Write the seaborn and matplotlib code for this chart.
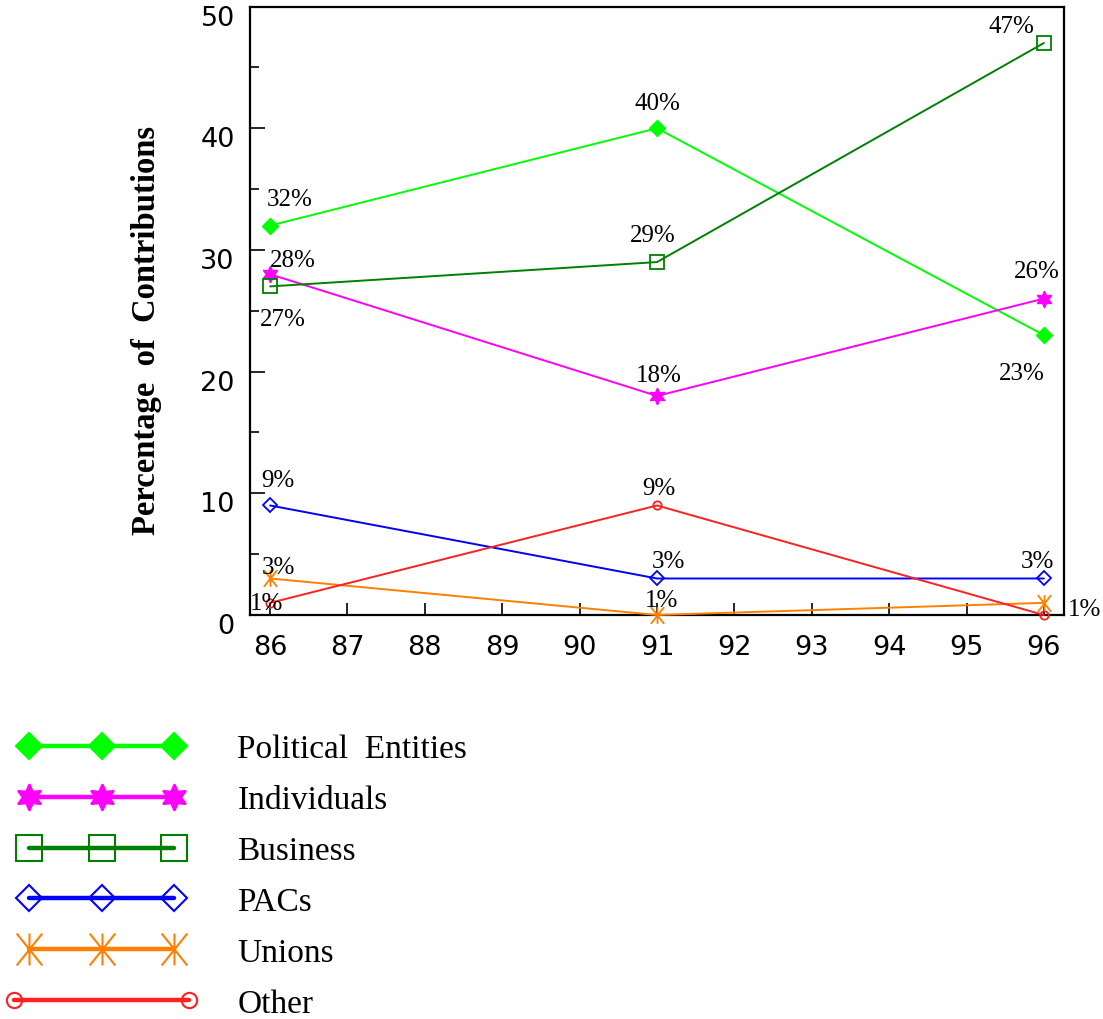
import numpy as np
import pandas as pd
import matplotlib
matplotlib.use("Agg")
import matplotlib.pyplot as plt
from matplotlib.path import Path
from matplotlib.lines import Line2D
from matplotlib.legend_handler import HandlerLine2D
from matplotlib.transforms import ScaledTranslation
import seaborn as sns

# ---- data ----
years = [86, 91, 96]
political = [32, 40, 23]
individuals = [28, 18, 26]
business = [27, 29, 47]
pacs = [9, 3, 3]
unions = [3, 0, 1]
other = [1, 9, 0]

political_labels = ["32%", "40%", "23%"]
individuals_labels = ["28%", "18%", "26%"]
business_labels = ["27%", "29%", "47%"]
pacs_labels = ["9%", "3%", "3%"]
unions_labels = ["3%", "1%", "1%"]
other_labels = ["1%", "9%", ""]

series_names = ["Political  Entities", "Individuals", "Business", "PACs", "Unions", "Other"]
xtick_values = list(range(86, 97))
ytick_values = [0, 10, 20, 30, 40, 50]
ylabel_text = "Percentage  of  Contributions"

# ---- styles / layout ----
sns.set_style("white")
plt.rcParams["font.family"] = ["DejaVu Sans"]
plt.rcParams["text.color"] = "black"
plt.rcParams["axes.labelcolor"] = "black"

asterisk = Path(
    [(0, -1), (0, 1), (-0.8, -1), (0.8, 1), (-0.8, 1), (0.8, -1)],
    [Path.MOVETO, Path.LINETO, Path.MOVETO, Path.LINETO, Path.MOVETO, Path.LINETO],
)

styles = [
    dict(color="#00ff00", marker="D", ms=8, mfc="#00ff00", mec="#00ff00", mew=1.0),
    dict(color="#ff00ff", marker=(6, 1, 0), ms=12, mfc="#ff00ff", mec="#ff00ff", mew=1.0),
    dict(color="#008000", marker="s", ms=10, mfc="none", mec="#008000", mew=1.3),
    dict(color="#0000ff", marker="D", ms=7.5, mfc="none", mec="#0000ff", mew=1.3),
    dict(color="#ff8000", marker=asterisk, ms=12, mfc="none", mec="#ff8000", mew=1.3),
    dict(color="#ff2020", marker="o", ms=6, mfc="none", mec="#ff2020", mew=1.3),
]
legend_styles = [
    dict(marker="D", ms=13.5),
    dict(marker=(6, 1, 0), ms=19),
    dict(marker="s", ms=19),
    dict(marker="D", ms=13),
    dict(marker=asterisk, ms=23),
    dict(marker="o", ms=11),
]
# annotation offsets in pixels (dx, dy up)
offsets = [
    [(20, 27), (0, 25), (-22, -38)],
    [(23, 14), (2, 21), (-7, 28)],
    [(13, -33), (-4, 27), (-32, 17)],
    [(8, 25), (11, 17), (-6, 17)],
    [(8, 11), (5, 15), (41, -6)],
    [(-4, 0), (2, 17), (0, 0)],
]

values = [political, individuals, business, pacs, unions, other]
labels = [political_labels, individuals_labels, business_labels, pacs_labels,
          unions_labels, other_labels]

fig = plt.figure(figsize=(11.03, 10.20), dpi=100)
ax = fig.add_axes([250 / 1103, 1 - 616 / 1020, 814 / 1103, 608.5 / 1020])

for name, vals, st in zip(series_names, values, styles):
    df = pd.DataFrame({"year": years, "pct": vals})
    sns.lineplot(data=df, x="year", y="pct", ax=ax, legend=False,
                 color=st["color"], marker=st["marker"], markersize=st["ms"],
                 markerfacecolor=st["mfc"], markeredgecolor=st["mec"],
                 markeredgewidth=st["mew"], linewidth=1.4, clip_on=False, zorder=3)

for vals, labs, offs in zip(values, labels, offsets):
    for x, y, lab, off in zip(years, vals, labs, offs):
        if lab:
            ax.annotate(lab, (x, y), xytext=off, textcoords="offset pixels",
                        ha="center", va="center", fontsize=18,
                        family=["Liberation Serif", "DejaVu Serif"], color="black",
                        annotation_clip=False, zorder=5)

ax.set_xlim(85.74, 96.26)
ax.set_ylim(0, 50)
ax.set_xticks(xtick_values)
ax.set_xticklabels([str(v) for v in xtick_values])
ax.set_yticks(ytick_values)
ax.set_yticklabels([str(v) for v in ytick_values])
ax.set_yticks(np.arange(5, 50, 10), minor=True)
ax.tick_params(axis="x", direction="in", length=8.6, width=1.2, labelsize=19.5, pad=14,
               colors="black", bottom=True, top=False)
ax.tick_params(axis="y", which="major", direction="in", length=10.8, width=1.2,
               labelsize=19.5, pad=11, colors="black", left=True, right=False)
ax.tick_params(axis="y", which="minor", direction="in", length=6.5, width=1.2,
               colors="black", left=True, right=False)
shift = ScaledTranslation(0, -8 / 100, fig.dpi_scale_trans)
for lab in ax.get_yticklabels():
    lab.set_transform(lab.get_transform() + shift)
for sp in ax.spines.values():
    sp.set_linewidth(1.6)
    sp.set_color("black")
ax.set_xlabel("")
ax.set_ylabel(ylabel_text, fontsize=23.5, fontweight="bold", color="black",
              family=["Liberation Serif", "DejaVu Serif"])
ax.yaxis.set_label_coords(-0.108, 0.47)
ax.grid(False)

handles = []
for name, st, lst in zip(series_names, styles, legend_styles):
    h = Line2D([], [], color=st["color"], linewidth=3.2, marker=lst["marker"],
               markersize=lst["ms"], markerfacecolor=st["mfc"],
               markeredgecolor=st["mec"], markeredgewidth=1.5, label=name)
    handles.append(h)
hmap = {h: HandlerLine2D(numpoints=3, marker_pad=0.45) for h in handles[:-1]}
hmap[handles[-1]] = HandlerLine2D(numpoints=2, marker_pad=0.0)
leg = fig.legend(handles=handles, loc="upper left",
                 bbox_to_anchor=(14 / 1103, 1 - 735 / 1020),
                 frameon=False, handlelength=5.25, handletextpad=1.45,
                 labelspacing=0.61, borderpad=0, borderaxespad=0,
                 prop={"family": ["Liberation Serif", "DejaVu Serif"], "size": 24},
                 labelcolor="black", handler_map=hmap)

fig.savefig("out.png", dpi=100)
